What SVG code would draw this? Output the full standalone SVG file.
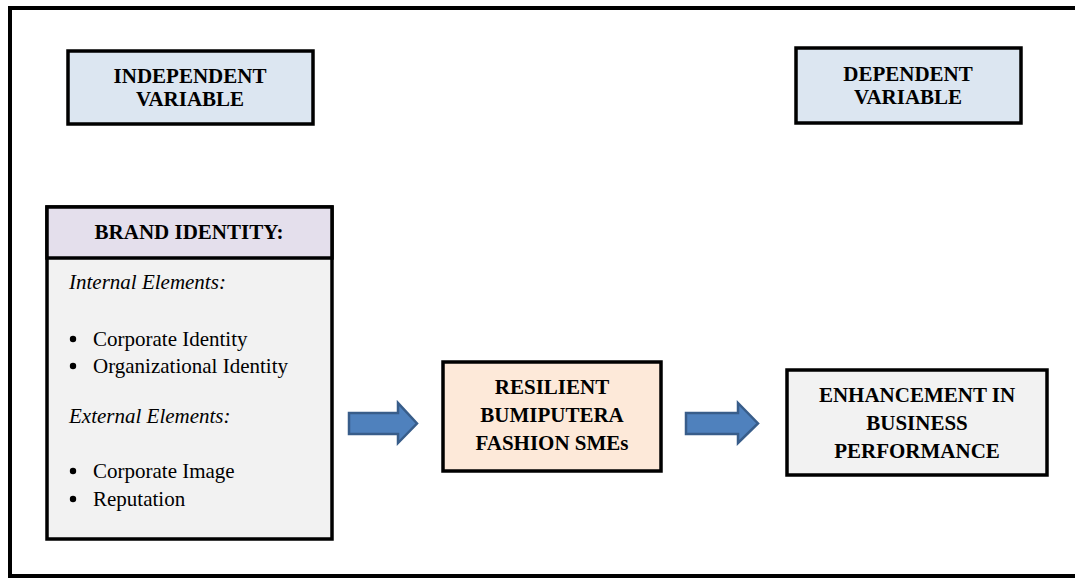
<svg xmlns="http://www.w3.org/2000/svg" width="1075" height="578" viewBox="0 0 1075 578">
<style>
.box{stroke:#000;stroke-width:3.5}
.hd{font-family:'Liberation Serif','DejaVu Serif',serif;font-weight:bold;font-size:21px;text-anchor:middle;fill:#000}
.tx{font-family:'Liberation Serif','DejaVu Serif',serif;font-size:21px;fill:#000}
.it{font-style:italic}
.dot{fill:#000}
.arr{fill:#4F81BD;stroke:#385D8A;stroke-width:2.5;stroke-linejoin:miter}
</style>
<rect width="1075" height="578" fill="#fff"/>
<path d="M1085,8 H10 V576 H1085" fill="none" stroke="#000" stroke-width="4"/>
<g id="independent">
<rect class="box" x="68" y="51" width="245" height="73" fill="#DCE6F1"/>
<text class="hd" x="190" y="83">INDEPENDENT</text>
<text class="hd" x="190" y="106">VARIABLE</text>
</g>
<g id="dependent">
<rect class="box" x="796" y="48" width="225" height="75" fill="#DCE6F1"/>
<text class="hd" x="908" y="81">DEPENDENT</text>
<text class="hd" x="908" y="104">VARIABLE</text>
</g>
<g id="brand-identity">
<rect class="box" x="47" y="207" width="285" height="332" fill="#F2F2F2"/>
<rect class="box" x="47" y="207" width="285" height="51" fill="#E4DFEC"/>
<text class="hd" x="189" y="239">BRAND IDENTITY:</text>
<text class="tx it" x="69" y="289">Internal Elements:</text>
<circle class="dot" cx="73" cy="339" r="3.2"/>
<text class="tx" x="93" y="346">Corporate Identity</text>
<circle class="dot" cx="73" cy="366" r="3.2"/>
<text class="tx" x="93" y="373">Organizational Identity</text>
<text class="tx it" x="69" y="423">External Elements:</text>
<circle class="dot" cx="73" cy="471" r="3.2"/>
<text class="tx" x="93" y="478">Corporate Image</text>
<circle class="dot" cx="73" cy="499" r="3.2"/>
<text class="tx" x="93" y="506">Reputation</text>
</g>
<g id="resilient">
<rect class="box" x="443" y="362" width="218" height="109" fill="#FDE9D9"/>
<text class="hd" x="552" y="394">RESILIENT</text>
<text class="hd" x="552" y="422">BUMIPUTERA</text>
<text class="hd" x="552" y="450">FASHION SMEs</text>
</g>
<g id="enhancement">
<rect class="box" x="787" y="370" width="260" height="105" fill="#F2F2F2"/>
<text class="hd" x="917" y="402">ENHANCEMENT IN</text>
<text class="hd" x="917" y="430">BUSINESS</text>
<text class="hd" x="917" y="458">PERFORMANCE</text>
</g>
<g id="connectors">
<path class="arr" d="M349,413 H398 V403 L417,423.5 L398,443 V434 H349 Z"/>
<path class="arr" d="M686,413 H738 V403 L758,423.5 L738,443 V434 H686 Z"/>
</g>
</svg>
